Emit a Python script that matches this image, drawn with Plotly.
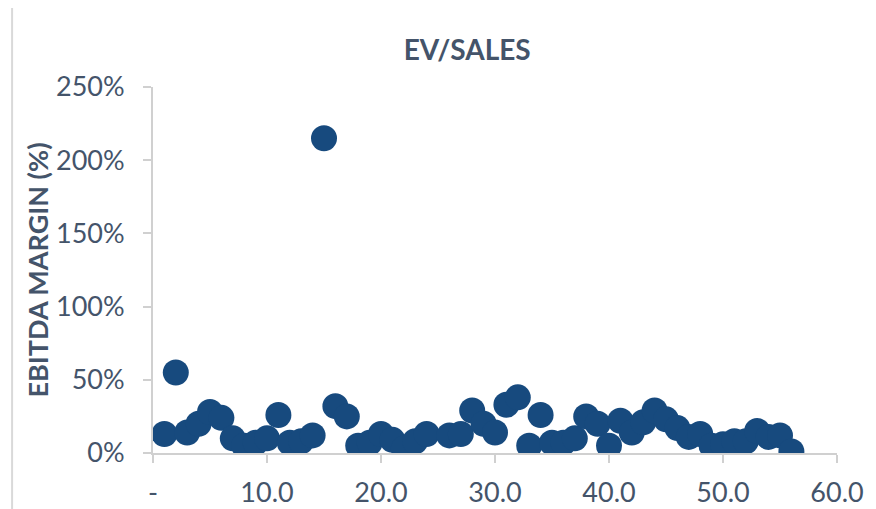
import plotly.graph_objects as go

# EV/Sales multiple vs EBITDA margin
ev_sales = [1, 2, 3, 4, 5, 6, 7, 8, 9, 10, 11, 12, 13, 14, 15, 16, 17, 18, 19, 20,
            21, 22, 23, 24, 26, 27, 28, 29, 30, 31, 32, 33, 34, 35, 36, 37, 38, 39, 40,
            41, 42, 43, 44, 45, 46, 47, 48, 49, 50, 51, 52, 53, 54, 55, 56]
ebitda_margin = [0.13, 0.55, 0.14, 0.20, 0.28, 0.24, 0.10, 0.05, 0.07, 0.10,
                 0.26, 0.07, 0.08, 0.12, 2.15, 0.32, 0.25, 0.05, 0.07, 0.13,
                 0.09, 0.03, 0.08, 0.13, 0.12, 0.13, 0.29, 0.20, 0.14, 0.33,
                 0.38, 0.05, 0.26, 0.07, 0.07, 0.10, 0.25, 0.20, 0.05, 0.22,
                 0.14, 0.21, 0.29, 0.23, 0.17, 0.11, 0.13, 0.05, 0.06, 0.08,
                 0.08, 0.15, 0.11, 0.12, 0.01]

x_ticks = [0, 10, 20, 30, 40, 50, 60]
x_tick_labels = ["-", "10.0", "20.0", "30.0", "40.0", "50.0", "60.0"]
y_ticks = [0, 0.5, 1.0, 1.5, 2.0, 2.5]
y_tick_labels = ["0%", "50%", "100%", "150%", "200%", "250%"]

text_color = "#44546A"
axis_color = "#D0D0D0"

fig = go.Figure()
fig.add_trace(go.Scatter(
    x=ev_sales, y=ebitda_margin, mode="markers",
    marker=dict(size=26, color="#174A7E", line=dict(width=0)),
    showlegend=False,
))

# chart area border (extends past the right/bottom edges)
fig.add_shape(type="rect", xref="paper", yref="paper",
              x0=-0.206, y0=-0.4, x1=1.13, y1=1.219,
              line=dict(color="#D9D9D9", width=2), layer="below")

# page has an 8px body margin, so the figure is drawn 8px smaller
fig.update_layout(
    width=868, height=501,
    margin=dict(l=145, r=39, t=79, b=56),
    paper_bgcolor="white", plot_bgcolor="white",
    font=dict(family="Lato", color=text_color, size=27),
    title=dict(text="<b>EV/SALES</b>", x=0.529, xref="container", xanchor="center",
               y=0.915, yref="container", yanchor="middle",
               font=dict(size=28, color=text_color)),
    xaxis=dict(range=[0, 60], tickvals=x_ticks, ticktext=x_tick_labels,
               showgrid=False, zeroline=False, showline=True, automargin=False,
               linecolor=axis_color, linewidth=2,
               ticks="outside", ticklen=8, tickcolor=axis_color, tickwidth=2,
               ticklabelstandoff=7, tickfont=dict(size=27, color=text_color)),
    yaxis=dict(range=[0, 2.5], tickvals=y_ticks, ticktext=y_tick_labels,
               showgrid=False, zeroline=False, showline=True, automargin=False,
               linecolor=axis_color, linewidth=2,
               ticks="outside", ticklen=8, tickcolor=axis_color, tickwidth=2,
               ticklabelstandoff=13, tickfont=dict(size=27, color=text_color),
               title=dict(text="<b>EBITDA MARGIN (%)</b>", standoff=0,
                          font=dict(size=27, color=text_color))),
)

fig.write_html("out.html")
